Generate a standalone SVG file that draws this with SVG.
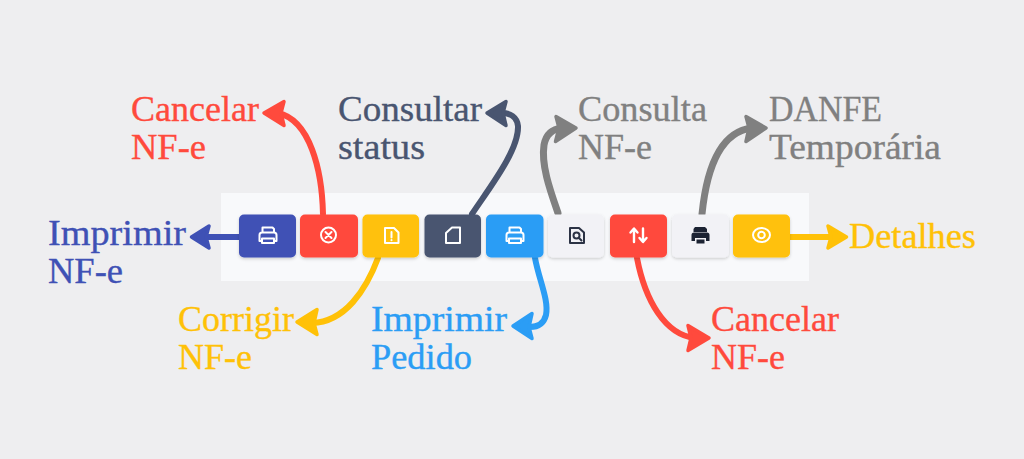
<svg xmlns="http://www.w3.org/2000/svg" width="1024" height="459" viewBox="0 0 1024 459">
<defs>
<filter id="sh" x="-20%" y="-20%" width="140%" height="150%"><feDropShadow dx="0" dy="1.5" stdDeviation="1.5" flood-color="#000" flood-opacity="0.18"/></filter>
</defs>
<style>
.t{font-family:"Liberation Serif","DejaVu Serif",serif;font-size:35px;stroke-width:0.35}
.c{fill:none;stroke-width:6;stroke-linecap:round}
.h{stroke-width:3.500;stroke-linejoin:round}
.b{filter:url(#sh)}
.i{fill:none;stroke:#fff;stroke-width:2;stroke-linejoin:round;stroke-linecap:round}
.d{fill:none;stroke:#2c3345;stroke-width:2;stroke-linejoin:round;stroke-linecap:round}
</style>
<rect width="1024" height="459" fill="#eeeef0"/>
<rect x="221" y="193" width="588" height="88" fill="#f8f9fb"/>
<g id="connectors">
<g stroke="#3f51b5" fill="#3f51b5"><path class="c" d="M240 237H205"/><path class="h" d="M191.500 237L209 226L206 237L209 248Z"/></g>
<g stroke="#ff4a3d" fill="#ff4a3d"><path class="c" d="M323 214C322 170 310 120 278 113"/><path class="h" d="M264 113L284 101.500L281 113L284 125.500Z"/></g>
<g stroke="#ffc107" fill="#ffc107"><path class="c" d="M378 258C366 290 345 322 312 323"/><path class="h" d="M297 322L317 309.500L314 323L317 334.500Z"/></g>
<g stroke="#495570" fill="#495570"><path class="c" d="M472 214C490 187 519 150 518 126C517 117 510 113 502 113"/><path class="h" d="M487 113L506 101.500L503 113L506 125.500Z"/></g>
<g stroke="#2b9df5" fill="#2b9df5"><path class="c" d="M535 258C539 280 549 300 546 315C544 323 539 327 530 327"/><path class="h" d="M513 326L532 313.500L529 327L532 338.500Z"/></g>
<g stroke="#808080" fill="#808080"><path class="c" d="M558 213C550 190 541 165 544 145C546 134 552 129 562 128" style="stroke-width:7"/><path class="h" d="M576 128L556 116.500L559 128L555.500 141.500Z"/></g>
<g stroke="#ff4a3d" fill="#ff4a3d"><path class="c" d="M637 258C645 300 665 335 695 338"/><path class="h" d="M709 338L688 325.500L691 338L688 350.500Z"/></g>
<g stroke="#808080" fill="#808080"><path class="c" d="M702 214C706 175 718 132 752 128" style="stroke-width:7"/><path class="h" d="M766 128L746 116.500L749 128L746 141.500Z"/></g>
<g stroke="#ffc107" fill="#ffc107"><path class="c" d="M790 237H833"/><path class="h" d="M846.500 237L828 226L831 237L828 248Z"/></g>
</g>
<g id="btn-imprimir-nfe"><rect class="b" x="239" y="214.500" width="57" height="43" rx="5" fill="#3f51b5"/><path class="i" d="M262.500 232V227.500H272.500L274 229V232M261 241H259.500V235Q259.500 232.500 262 232.500H274Q276.500 232.500 276.500 235V241H275M262 238.500H274V243H262Z"/></g>
<g id="btn-cancelar"><rect class="b" x="300" y="214.500" width="58" height="43" rx="5" fill="#ff4a3d"/><circle class="i" cx="328.500" cy="235" r="7.500"/><path class="i" d="M325.500 232L331.500 238M331.500 232L325.500 238"/></g>
<g id="btn-corrigir"><rect class="b" x="362.500" y="214.500" width="56.500" height="43" rx="5" fill="#ffc107"/><path class="i" d="M385 228H394L398.500 232.500V243H385ZM391.500 232V237.500M391.500 240V240.300"/></g>
<g id="btn-status"><rect class="b" x="424.500" y="214.500" width="56.500" height="43" rx="5" fill="#495570"/><path class="i" d="M446 233L452 227.500H460V243H446Z"/></g>
<g id="btn-imprimir-pedido"><rect class="b" x="486" y="214.500" width="57.500" height="43" rx="5" fill="#2b9df5"/><path class="i" d="M509.500 232V227.500H519.500L521 229V232M508 241H506.500V235Q506.500 232.500 509 232.500H521Q523.500 232.500 523.500 235V241H522M509 238.500H521V243H509Z"/></g>
<g id="btn-consulta"><rect class="b" x="548" y="214.500" width="56" height="43" rx="5" fill="#f2f2f6"/><path class="d" d="M570 228H579L584 232.500V243H570Z"/><circle class="d" cx="576.500" cy="235.500" r="3"/><path class="d" d="M579 238L581.500 240.500"/></g>
<g id="btn-cancelar2"><rect class="b" x="610" y="214.500" width="57" height="43" rx="5" fill="#ff4a3d"/><path class="i" d="M634 242V229M630.500 232.500L634 228.500L637.500 232.500M643 228.500V241.500M639.500 238L643 242L646.500 238" style="stroke-width:2.400"/></g>
<g id="btn-danfe"><rect class="b" x="672" y="214.500" width="57" height="43" rx="5" fill="#f2f2f6"/><path fill="#1c2333" d="M695 227H705L707 229V232H693.500V229ZM694 232.500H707Q709.500 232.500 709.500 235V241H706V238H695V241H691.500V235Q691.500 232.500 694 232.500ZM696.500 239.500H704.500V243.500H696.500Z"/></g>
<g id="btn-detalhes"><rect class="b" x="733" y="214.500" width="57" height="43" rx="5" fill="#ffc107"/><ellipse class="i" cx="761.500" cy="235" rx="8.500" ry="7"/><circle class="i" cx="761.500" cy="235" r="3.300"/></g>
<g id="labels">
<g class="t" fill="#3f51b5" stroke="#3f51b5"><text x="48" y="245" textLength="138" lengthAdjust="spacingAndGlyphs">Imprimir</text><text x="48" y="283" textLength="75" lengthAdjust="spacingAndGlyphs">NF-e</text></g>
<g class="t" fill="#ff4a3d" stroke="#ff4a3d"><text x="131" y="121" textLength="128" lengthAdjust="spacingAndGlyphs">Cancelar</text><text x="131" y="159" textLength="75" lengthAdjust="spacingAndGlyphs">NF-e</text></g>
<g class="t" fill="#495570" stroke="#495570"><text x="338" y="121" textLength="144" lengthAdjust="spacingAndGlyphs">Consultar</text><text x="338" y="159" textLength="87" lengthAdjust="spacingAndGlyphs">status</text></g>
<g class="t" fill="#808080" stroke="#808080"><text x="578" y="121" textLength="129" lengthAdjust="spacingAndGlyphs">Consulta</text><text x="578" y="159" textLength="74" lengthAdjust="spacingAndGlyphs">NF-e</text></g>
<g class="t" fill="#808080" stroke="#808080"><text x="769" y="121" textLength="113" lengthAdjust="spacingAndGlyphs">DANFE</text><text x="769" y="159" textLength="172" lengthAdjust="spacingAndGlyphs">Temporária</text></g>
<g class="t" fill="#ffc107" stroke="#ffc107"><text x="178" y="331" textLength="116" lengthAdjust="spacingAndGlyphs">Corrigir</text><text x="178" y="369" textLength="74" lengthAdjust="spacingAndGlyphs">NF-e</text></g>
<g class="t" fill="#2b9df5" stroke="#2b9df5"><text x="371" y="331" textLength="136" lengthAdjust="spacingAndGlyphs">Imprimir</text><text x="371" y="369" textLength="101" lengthAdjust="spacingAndGlyphs">Pedido</text></g>
<g class="t" fill="#ff4a3d" stroke="#ff4a3d"><text x="711" y="331" textLength="128" lengthAdjust="spacingAndGlyphs">Cancelar</text><text x="711" y="369" textLength="74" lengthAdjust="spacingAndGlyphs">NF-e</text></g>
<text class="t" fill="#ffc107" stroke="#ffc107" x="849" y="248" textLength="127" lengthAdjust="spacingAndGlyphs">Detalhes</text>
</g>
</svg>
